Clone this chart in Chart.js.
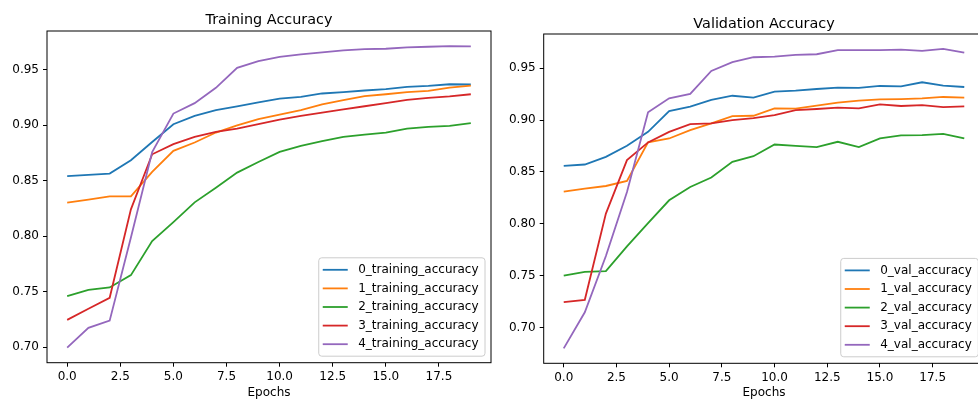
<!DOCTYPE html>
<html>
<head>
<meta charset="utf-8">
<script src="https://cdn.jsdelivr.net/npm/chart.js@4.4.1/dist/chart.umd.min.js"></script>
<style>
	html, body { margin: 0; padding: 0; background: #fff; overflow: hidden; width: 978px; height: 401px; }
	.panel { position: absolute; top: 0; width: 500px; height: 401px; }
	#leftPanel { left: 0; }
	#rightPanel { left: 500px; }
</style>
</head>
<body>
<div class="panel" id="leftPanel"><canvas id="trainChart" width="500" height="401"></canvas></div>
<div class="panel" id="rightPanel"><canvas id="valChart" width="500" height="401"></canvas></div>
<script>
// epochs and tick values
const epochs = [0, 1, 2, 3, 4, 5, 6, 7, 8, 9, 10, 11, 12, 13, 14, 15, 16, 17, 18, 19];
const xTicks = [0, 2.5, 5, 7.5, 10, 12.5, 15, 17.5];
const yTicks = [0.70, 0.75, 0.80, 0.85, 0.90, 0.95];

// training accuracy per fold
const train0 = [0.8543, 0.8553, 0.8565, 0.8685, 0.8850, 0.9010, 0.9085, 0.9136, 0.9170, 0.9206, 0.9240, 0.9257, 0.9287, 0.9300, 0.9314, 0.9326, 0.9347, 0.9356, 0.9370, 0.9368];
const train1 = [0.8303, 0.8330, 0.8360, 0.8360, 0.8580, 0.8770, 0.8845, 0.8935, 0.9000, 0.9055, 0.9097, 0.9136, 0.9188, 0.9227, 0.9263, 0.9280, 0.9300, 0.9310, 0.9340, 0.9357];
const train2 = [0.7460, 0.7518, 0.7539, 0.7650, 0.7957, 0.8128, 0.8306, 0.8438, 0.8574, 0.8670, 0.8760, 0.8814, 0.8857, 0.8896, 0.8917, 0.8935, 0.8970, 0.8986, 0.8995, 0.9019];
const train3 = [0.7247, 0.7347, 0.7446, 0.8243, 0.8739, 0.8830, 0.8895, 0.8940, 0.8971, 0.9010, 0.9052, 0.9085, 0.9115, 0.9143, 0.9172, 0.9200, 0.9229, 0.9247, 0.9260, 0.9280];
const train4 = [0.6997, 0.7175, 0.7240, 0.7990, 0.8760, 0.9106, 0.9200, 0.9338, 0.9518, 0.9578, 0.9617, 0.9639, 0.9657, 0.9675, 0.9687, 0.9690, 0.9702, 0.9708, 0.9714, 0.9711];

// validation accuracy per fold
const val0 = [0.8559, 0.8572, 0.8646, 0.8752, 0.8887, 0.9087, 0.9129, 0.9194, 0.9235, 0.9216, 0.9274, 0.9284, 0.9300, 0.9313, 0.9310, 0.9329, 0.9326, 0.9365, 0.9332, 0.9319];
const val1 = [0.8311, 0.8340, 0.8365, 0.8414, 0.8785, 0.8823, 0.8904, 0.8968, 0.9039, 0.9042, 0.9113, 0.9110, 0.9139, 0.9168, 0.9187, 0.9200, 0.9203, 0.9210, 0.9223, 0.9216];
const val2 = [0.7500, 0.7538, 0.7544, 0.7783, 0.8008, 0.8227, 0.8356, 0.8447, 0.8598, 0.8652, 0.8765, 0.8752, 0.8740, 0.8791, 0.8740, 0.8823, 0.8853, 0.8855, 0.8868, 0.8823];
const val3 = [0.7245, 0.7268, 0.8099, 0.8614, 0.8785, 0.8887, 0.8962, 0.8968, 0.9000, 0.9020, 0.9049, 0.9097, 0.9107, 0.9120, 0.9113, 0.9152, 0.9136, 0.9145, 0.9126, 0.9133];
const val4 = [0.6800, 0.7148, 0.7690, 0.8308, 0.9075, 0.9210, 0.9252, 0.9474, 0.9558, 0.9606, 0.9612, 0.9628, 0.9635, 0.9674, 0.9674, 0.9674, 0.9680, 0.9667, 0.9686, 0.9651];

const trainNames = ["0_training_accuracy", "1_training_accuracy", "2_training_accuracy", "3_training_accuracy", "4_training_accuracy"];
const valNames = ["0_val_accuracy", "1_val_accuracy", "2_val_accuracy", "3_val_accuracy", "4_val_accuracy"];
const colors = ["#1f77b4", "#ff7f0e", "#2ca02c", "#d62728", "#9467bd"];

Chart.defaults.font.family = "'DejaVu Sans', sans-serif";
Chart.defaults.font.size = 12;
Chart.defaults.color = "#000";

// frame, title and legend drawn the matplotlib way
const mplDecor = {
	id: "mplDecor",
	afterDraw: (chart, args, opts) => {
		const {ctx, chartArea: area} = chart;
		ctx.save();
		ctx.strokeStyle = "#000";
		ctx.lineWidth = 1;
		ctx.strokeRect(area.left, area.top, area.right - area.left, area.bottom - area.top);

		ctx.fillStyle = "#000";
		ctx.font = "14.4px 'DejaVu Sans', sans-serif";
		ctx.textAlign = "center";
		ctx.textBaseline = "alphabetic";
		ctx.fillText(opts.title, (area.left + area.right) / 2, area.top - opts.titleGap);

		const datasets = chart.data.datasets;
		ctx.font = "12px 'DejaVu Sans', sans-serif";
		const textW = Math.max(...datasets.map(d => ctx.measureText(d.label).width));
		const rowH = 18.6;
		const boxW = textW + 46;
		const boxH = rowH * (datasets.length - 1) + 24;
		const boxR = area.right - 6;
		const boxB = area.bottom - 6.5;
		const boxL = boxR - boxW;
		const boxT = boxB - boxH;
		ctx.beginPath();
		ctx.roundRect(boxL, boxT, boxW, boxH, 3);
		ctx.fillStyle = "rgba(255,255,255,0.8)";
		ctx.fill();
		ctx.strokeStyle = "#cccccc";
		ctx.stroke();
		datasets.forEach((d, i) => {
			const y = boxT + 12 + i * rowH;
			ctx.strokeStyle = d.borderColor;
			ctx.lineWidth = 1.8;
			ctx.beginPath();
			ctx.moveTo(boxL + 4, y);
			ctx.lineTo(boxL + 29, y);
			ctx.stroke();
			ctx.fillStyle = "#000";
			ctx.textAlign = "left";
			ctx.textBaseline = "middle";
			ctx.fillText(d.label, boxL + 39.5, y);
		});
		ctx.restore();
	}
};

const makeChart = (canvas, series, names, opts) => new Chart(canvas, {
	type: "line",
	data: {
		datasets: series.map((s, i) => ({
			label: names[i],
			data: epochs.map((e, k) => ({x: e, y: s[k]})),
			borderColor: colors[i],
			backgroundColor: colors[i],
			borderWidth: 1.8,
			pointRadius: 0,
			tension: 0,
			order: series.length - i
		}))
	},
	options: {
		responsive: false,
		animation: false,
		layout: {padding: opts.padding},
		plugins: {
			legend: {display: false},
			tooltip: {enabled: false},
			mplDecor: {title: opts.title, titleGap: opts.titleGap}
		},
		scales: {
			x: {
				type: "linear",
				min: -0.95,
				max: 19.95,
				afterBuildTicks: s => { s.ticks = xTicks.map(v => ({value: v})); },
				afterFit: s => { s.height = opts.xHeight; },
				ticks: {callback: v => v.toFixed(1), color: "#000", padding: 3, autoSkip: false, maxRotation: 0},
				grid: {drawOnChartArea: false, color: "#000", tickLength: 4},
				border: {display: false},
				title: {display: true, text: "Epochs", color: "#000", padding: {top: 0, bottom: 1}}
			},
			y: {
				type: "linear",
				min: opts.yMin,
				max: opts.yMax,
				afterBuildTicks: s => { s.ticks = yTicks.map(v => ({value: v})); },
				afterFit: s => { s.width = opts.yWidth; },
				ticks: {callback: v => v.toFixed(2), color: "#000", padding: 4},
				grid: {drawOnChartArea: false, color: "#000", tickLength: 4},
				border: {display: false}
			}
		}
	},
	plugins: [mplDecor]
});

makeChart(document.querySelector("#trainChart"), [train0, train1, train2, train3, train4], trainNames, {
	title: "Training Accuracy",
	titleGap: 7,
	padding: {left: 0, top: 31, right: 9, bottom: 0},
	xHeight: 38.3,
	yWidth: 47,
	yMin: 0.6861,
	yMax: 0.9850
});

makeChart(document.querySelector("#valChart"), [val0, val1, val2, val3, val4], valNames, {
	title: "Validation Accuracy",
	titleGap: 6.5,
	padding: {left: 0, top: 34, right: 15.7, bottom: 0},
	xHeight: 37.7,
	yWidth: 43.7,
	yMin: 0.6656,
	yMax: 0.9830
});
</script>
</body>
</html>
